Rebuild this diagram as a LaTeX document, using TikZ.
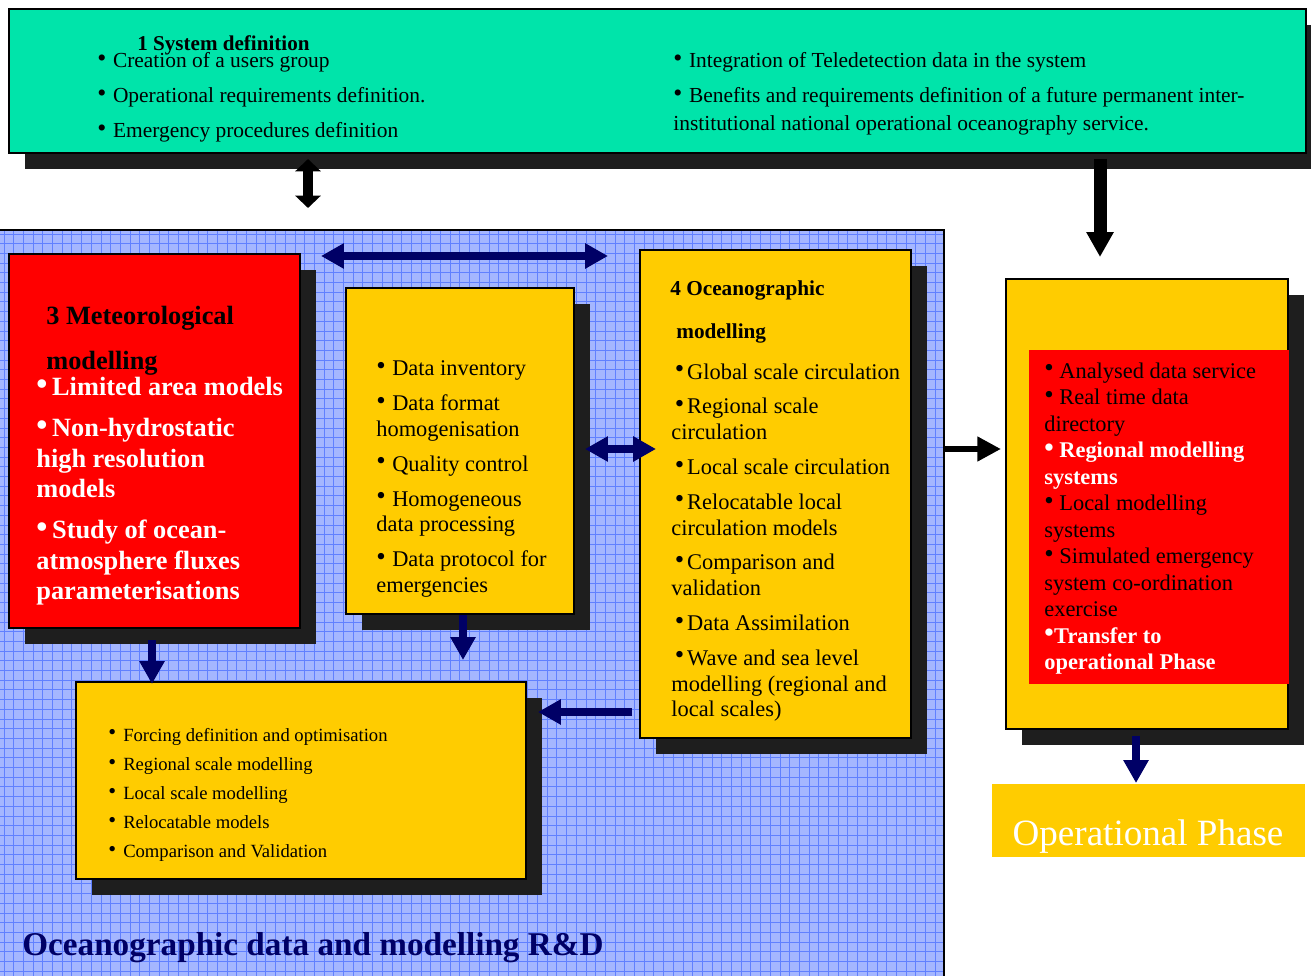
\documentclass[tikz,border=0pt]{standalone}
\usepackage{fontspec}
\setmainfont{Liberation Serif}
\usetikzlibrary{arrows.meta,shadows,calc}

\definecolor{topgreen}{RGB}{0,228,170}
\definecolor{shadowc}{RGB}{30,30,30}
\definecolor{boxyellow}{RGB}{255,204,0}
\definecolor{boxred}{RGB}{255,0,0}
\definecolor{navyc}{RGB}{0,0,102}
\definecolor{gridbg}{RGB}{164,182,255}
\definecolor{gridline}{RGB}{96,128,255}

% enlarged, raised bullet in a box whose width sets where the item text starts
\newcommand\bu[1][0.73em]{\makebox[#1][l]{\raisebox{0.06em}{\scalebox{1.2}{\textbullet}}}}
\newcommand\fs[2]{\fontsize{#1}{#2}\selectfont}

\begin{document}
\begin{tikzpicture}[x=0.02cm, y=-0.02cm,
  box/.style={draw=black, line width=1pt, inner sep=0pt, anchor=north west},
  plainbox/.style={draw=none, inner sep=0pt, anchor=north west},
  shad/.style={drop shadow={shadow xshift=0.32cm, shadow yshift=-0.32cm, fill=shadowc, opacity=1}},
  txt/.style={anchor=base west, inner sep=0pt, align=flush left, text width=14cm},
  navyarr/.style={draw=navyc, line width=4.5pt, -{Triangle[width=13.6pt,length=13pt]}},
  navydbl/.style={draw=navyc, line width=4.5pt, {Triangle[width=13.6pt,length=13pt]}-{Triangle[width=13.6pt,length=13pt]}},
  blkdbl/.style={draw=black, line width=6pt, {Triangle[width=14.2pt,length=7pt]}-{Triangle[width=14.2pt,length=7pt]}},
  blkdown/.style={draw=black, line width=7.4pt, -{Triangle[width=14.7pt,length=14.2pt]}},
  blkright/.style={draw=black, line width=3.8pt, -{Triangle[width=13.4pt,length=13.5pt]}}
]
\useasboundingbox (0,0) rectangle (1311,976);

% R&D backdrop with its grid
\node[plainbox, fill=gridbg, minimum width=943*0.02cm, minimum height=746*0.02cm] (rdarea) at (0,230) {};
\begin{scope}
  \clip (rdarea.south west) rectangle (rdarea.north east);
  \foreach \i in {0,...,97} \draw[gridline, line width=0.55pt] (\i*9.7+4,230) -- (\i*9.7+4,976);
  \foreach \j in {0,...,77} \draw[gridline, line width=0.55pt] (0,230+\j*9.7+4) -- (943,230+\j*9.7+4);
\end{scope}
\draw[line width=1.2pt] (rdarea.north west) -- (rdarea.north east) -- (rdarea.south east);

% boxes
\node[box, shad, fill=topgreen, minimum width=1297*0.02cm, minimum height=144*0.02cm] (sysdef) at (8,8) {};
\node[box, shad, fill=boxred, minimum width=291*0.02cm, minimum height=374*0.02cm] (meteo) at (8,253) {};
\node[box, shad, fill=boxyellow, minimum width=228*0.02cm, minimum height=326*0.02cm] (datab) at (345,287) {};
\node[box, shad, fill=boxyellow, minimum width=271*0.02cm, minimum height=488*0.02cm] (ocean) at (639,249) {};
\node[box, shad, fill=boxyellow, minimum width=450*0.02cm, minimum height=197*0.02cm] (forcing) at (75,681) {};
\node[box, shad, fill=boxyellow, minimum width=282*0.02cm, minimum height=450*0.02cm] (services) at (1005,278) {};
\node[plainbox, fill=boxred, minimum width=260*0.02cm, minimum height=334*0.02cm] (servred) at (1029,350) {};
\node[plainbox, fill=boxyellow, minimum width=313*0.02cm, minimum height=73*0.02cm] (opphase) at (992,784) {};

% arrow end points
\coordinate (sA) at (308,159);  \coordinate (sB) at (308,208);
\coordinate (dA) at (1100,159); \coordinate (dB) at (1100,257);
\coordinate (rA) at (945,449);  \coordinate (rB) at (1001,449);
\coordinate (hA) at (321,256);  \coordinate (hB) at (608,256);
\coordinate (mA) at (585,449);  \coordinate (mB) at (656,449);
\coordinate (fA) at (152,640);  \coordinate (fB) at (152,684);
\coordinate (gA) at (463,615);  \coordinate (gB) at (463,660);
\coordinate (lA) at (632,712);  \coordinate (lB) at (538,712);
\coordinate (oA) at (1136,736); \coordinate (oB) at (1136,783);

\draw[blkdbl] (sA) -- (sB);
\draw[blkdown] (dA) -- (dB);
\draw[blkright] (rA) -- (rB);
\draw[navydbl] (hA) -- (hB);
\draw[navydbl] (mA) -- (mB);
\draw[navyarr] (fA) -- (fB);
\draw[navyarr] (gA) -- (gB);
\draw[navyarr] (lA) -- (lB);
\draw[navyarr] (oA) -- (oB);

% texts
\node[txt, font=\fs{12.0}{14}\bfseries] (sysTitle) at (137,51) {1 System definition};
\node[txt, font=\fs{12.2}{19.84}] (sysLeft) at (97,68)
  {\bu Creation of a users group\\
   \bu Operational requirements definition.\\
   \bu Emergency procedures definition};
\node[txt, font=\fs{12.2}{15.9}] (sysRight) at (673,68)
  {\bu Integration of Teledetection data in the system\\[3.97pt]
   \bu Benefits and requirements definition of a future permanent inter-\\
   institutional national operational oceanography service.};

\node[txt, font=\fs{15}{25.5}\bfseries] (meteoTitle) at (46,325) {3 Meteorological\\ modelling};
\node[txt, font=\fs{15}{17.4}\bfseries, text=white] (meteoList) at (36,396)
  {\bu[0.6em]Limited area models\\[5.8pt]
   \bu[0.6em]Non-hydrostatic\\ high resolution\\ models\\[5.8pt]
   \bu[0.6em]Study of ocean-\\ atmosphere fluxes\\ parameterisations};

\node[txt, font=\fs{12.76}{14.6}] (dataList) at (376,376)
  {\bu[0.71em]Data inventory\\[5.2pt]
   \bu[0.71em]Data format\\ homogenisation\\[5.2pt]
   \bu[0.71em]Quality control\\[5.2pt]
   \bu[0.71em]Homogeneous\\ data processing\\[5.2pt]
   \bu[0.71em]Data protocol for\\ emergencies};

\node[txt, font=\fs{12.1}{24.4}\bfseries] (oceanTitle) at (670,296) {4 Oceanographic\\ \hspace{3.4pt}modelling};
\node[txt, font=\fs{12.76}{14.7}] (oceanList) at (671,379)
  {\hspace{2pt}\bu[0.55em]Global scale circulation\\[5.1pt]
   \hspace{2pt}\bu[0.55em]Regional scale\\ circulation\\[5.1pt]
   \hspace{2pt}\bu[0.55em]Local scale circulation\\[5.1pt]
   \hspace{2pt}\bu[0.55em]Relocatable local\\ circulation models\\[5.1pt]
   \hspace{2pt}\bu[0.55em]Comparison and\\ validation\\[5.1pt]
   \hspace{2pt}\bu[0.55em]Data Assimilation\\[5.1pt]
   \hspace{2pt}\bu[0.55em]Wave and sea level\\ modelling (regional and\\ local scales)};

\node[txt, font=\fs{10.6}{16.6}] (forcingList) at (108,741)
  {\bu[0.8em]Forcing definition and optimisation\\
   \bu[0.8em]Regional scale modelling\\
   \bu[0.8em]Local scale modelling\\
   \bu[0.8em]Relocatable models\\
   \bu[0.8em]Comparison and Validation};

\node[txt, font=\fs{12.76}{15.1}] (servList) at (1044,378)
  {\bu[0.67em]Analysed data service\\
   \bu[0.67em]Real time data\\
   directory\\
   \textcolor{white}{\bfseries\bu[0.67em]Regional modelling}\\
   \textcolor{white}{\bfseries systems}\\
   \bu[0.67em]Local modelling\\
   systems\\
   \bu[0.67em]Simulated emergency\\
   system co-ordination\\
   exercise\\
   \textcolor{white}{\bfseries\bu[0.44em]Transfer to}\\
   \textcolor{white}{\bfseries operational Phase}};

\node[anchor=base, inner sep=0pt, font=\fs{21.1}{24}, text=white] (opText) at (1148,845) {Operational Phase};

\node[txt, font=\fs{18.9}{22}\bfseries, text=navyc] (rdTitle) at (22,955) {Oceanographic data and modelling R\&D};
\end{tikzpicture}
\end{document}
